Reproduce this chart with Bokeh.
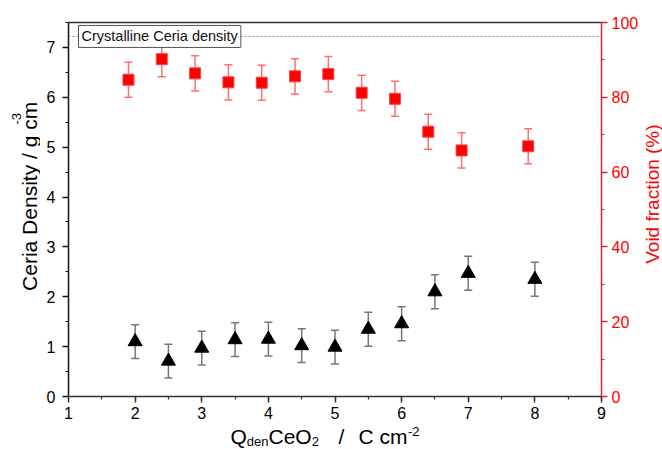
import math
from bokeh.plotting import figure
from bokeh.layouts import row, column
from bokeh.models import (Range1d, LinearAxis, Whisker, ColumnDataSource, Label,
                          Span, SingleIntervalTicker, FixedTicker, TeeHead)
from bokeh.embed import file_html
from bokeh.resources import INLINE

# ---------------- data ----------------
charge_density = [2.0, 2.5, 3.0, 3.5, 4.0, 4.5, 5.0, 5.5, 6.0, 6.5, 7.0, 8.0]
ceria_density = [1.10, 0.71, 0.97, 1.14, 1.15, 1.02, 0.99, 1.35, 1.46, 2.10, 2.47, 2.35]
ceria_density_err = [0.34, 0.34, 0.34, 0.34, 0.34, 0.34, 0.34, 0.34, 0.34, 0.34, 0.34, 0.34]

charge_void = [1.9, 2.4, 2.9, 3.4, 3.9, 4.4, 4.9, 5.4, 5.9, 6.4, 6.9, 7.9]
void_fraction = [84.7, 90.2, 86.4, 84.0, 83.9, 85.6, 86.2, 81.2, 79.6, 70.8, 65.8, 66.9]
void_fraction_err = [4.7, 4.7, 4.7, 4.7, 4.7, 4.7, 4.7, 4.7, 4.7, 4.7, 4.7, 4.7]

crystalline_density = 7.22
x_limits = (1, 9)
y_limits = (0, 7.5)
void_limits = (0, 100)

FONT = "Liberation Sans"
RED = "#ff0000"

src_d = ColumnDataSource(dict(
    x=charge_density, y=ceria_density,
    lo=[v - e for v, e in zip(ceria_density, ceria_density_err)],
    hi=[v + e for v, e in zip(ceria_density, ceria_density_err)]))
src_v = ColumnDataSource(dict(
    x=charge_void, y=void_fraction,
    lo=[v - e for v, e in zip(void_fraction, void_fraction_err)],
    hi=[v + e for v, e in zip(void_fraction, void_fraction_err)]))

# ---------------- layout sizes ----------------
LEFT_W, RIGHT_W = 40, 21
MAIN_W, MAIN_H = 601, 425
BOTTOM_H = 24
TOTAL_W = LEFT_W + MAIN_W + RIGHT_W

# ---------------- main plot ----------------
p = figure(width=MAIN_W, height=MAIN_H, output_backend="svg", toolbar_location=None,
           x_range=Range1d(*x_limits), y_range=Range1d(*y_limits),
           min_border_left=28, min_border_right=36, min_border_top=22, min_border_bottom=29)
p.extra_y_ranges = {"void": Range1d(*void_limits)}
p.grid.visible = False
p.outline_line_color = None
p.background_fill_color = "white"
p.border_fill_color = "white"


def style_axis(ax, color, line_color, standoff=8):
    ax.axis_line_color = line_color
    ax.axis_line_width = 1.5
    ax.major_tick_line_color = line_color
    ax.minor_tick_line_color = line_color
    ax.major_tick_line_width = 1.5
    ax.minor_tick_line_width = 1.2
    ax.major_tick_out = 6
    ax.major_tick_in = 0
    ax.minor_tick_out = 3
    ax.minor_tick_in = 0
    ax.major_label_text_font = FONT
    ax.major_label_text_font_size = "16px"
    ax.major_label_text_color = color
    ax.major_label_standoff = standoff


xa = p.xaxis[0]
xa.ticker = SingleIntervalTicker(interval=1, num_minor_ticks=2)
style_axis(xa, "black", "#333333", 4)

ya = p.yaxis[0]
ya.ticker = SingleIntervalTicker(interval=1, num_minor_ticks=2)
style_axis(ya, "black", "#111111", 7)

ra = LinearAxis(y_range_name="void", ticker=SingleIntervalTicker(interval=20, num_minor_ticks=2))
style_axis(ra, RED, "#d42a2a", 4)
p.add_layout(ra, "right")

ta = LinearAxis(ticker=FixedTicker(ticks=[]), major_label_text_font_size="0px",
                major_tick_out=0, minor_tick_out=0, axis_line_color="#333333", axis_line_width=1.5)
p.add_layout(ta, "above")

# crystalline density reference line
p.add_layout(Span(location=crystalline_density, dimension="width", line_color="#888888",
                  line_dash="2 2", line_width=1))

# error bars
p.add_layout(Whisker(base="x", lower="lo", upper="hi", source=src_d, line_color="#777777",
                     line_width=1.5,
                     upper_head=TeeHead(size=8, line_color="#777777", line_width=1.5),
                     lower_head=TeeHead(size=8, line_color="#777777", line_width=1.5)))
p.add_layout(Whisker(base="x", lower="lo", upper="hi", source=src_v, y_range_name="void",
                     line_color="#ff7070", line_width=1.5,
                     upper_head=TeeHead(size=8, line_color="#ff7070", line_width=1.5),
                     lower_head=TeeHead(size=8, line_color="#ff7070", line_width=1.5)))

p.scatter(x="x", y="y", source=src_d, marker="triangle", size=14,
          fill_color="black", line_color="black")
p.scatter(x="x", y="y", source=src_v, marker="square", size=11, y_range_name="void",
          fill_color=RED, line_color="#ff4040")

# legend-like label
p.add_layout(Label(x=10, y=crystalline_density, x_units="screen", y_units="data",
                   text="Crystalline Ceria density", text_font=FONT, text_font_size="14.5px",
                   text_color="#111111", text_baseline="middle", text_align="left",
                   background_fill_color="white", border_line_color="#555555",
                   border_line_width=1, padding=3))


# ---------------- text panels for the axis titles ----------------
def text_panel(w, h):
    f = figure(width=w, height=h, output_backend="svg", toolbar_location=None,
               x_range=Range1d(0, w), y_range=Range1d(0, h), min_border=0,
               x_axis_type=None, y_axis_type=None)
    f.outline_line_color = None
    f.background_fill_color = "white"
    f.border_fill_color = "white"
    f.title.visible = False
    return f


def add_text(fig, text, x, y, size, color="black", angle=0.0, align="left"):
    fig.add_layout(Label(x=x, y=y, text=text, text_font=FONT, text_font_size=f"{size}px",
                         text_color=color, text_baseline="middle", text_align=align,
                         angle=angle))


# left title (panel spans page x 0..40, y 0..425; data y = 425 - page y)
left_fig = text_panel(LEFT_W, MAIN_H)
add_text(left_fig, "Ceria Density / g cm", 29, 120, 21, angle=math.pi / 2)
add_text(left_fig, "-3", 16, 309, 13, angle=math.pi / 2)

# right title (panel spans page x 641..662)
right_fig = text_panel(RIGHT_W, MAIN_H)
add_text(right_fig, "Void fraction (%)", 10.5, 230, 19, color=RED, angle=math.pi / 2,
         align="center")

# x title (panel spans page y 425..449; data y = 449 - page y)
bottom_fig = text_panel(TOTAL_W, BOTTOM_H)
add_text(bottom_fig, "Q", 230, 13, 21)
add_text(bottom_fig, "den", 246.3, 8.5, 13)
add_text(bottom_fig, "CeO", 268, 13, 21)
add_text(bottom_fig, "2", 311.2, 8.5, 13)
add_text(bottom_fig, "/", 338, 13, 21)
add_text(bottom_fig, "C cm", 358, 13, 21)
add_text(bottom_fig, "-2", 407.5, 18, 13)

layout = column(row(left_fig, p, right_fig, spacing=0), bottom_fig, spacing=0)

open("out.html", "w").write(file_html(layout, INLINE))
